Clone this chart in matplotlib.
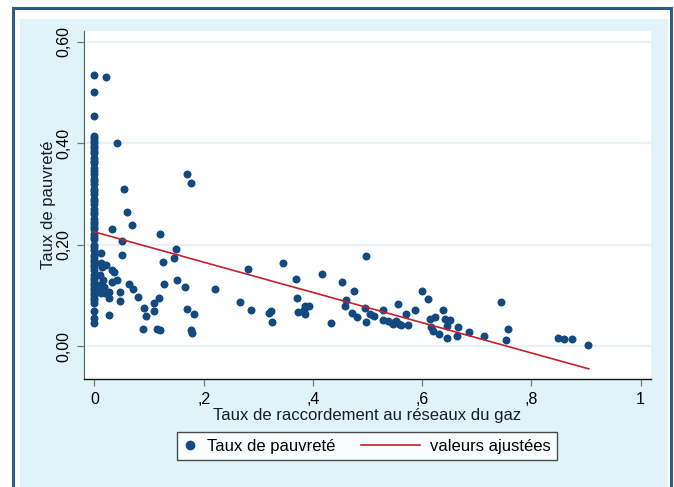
import matplotlib
matplotlib.use("Agg")
import matplotlib.pyplot as plt
from matplotlib.lines import Line2D
from matplotlib.patches import Rectangle
from matplotlib.legend_handler import HandlerBase

plt.rcParams['font.family'] = ['Liberation Sans', 'DejaVu Sans']

# ---- data ----
# communes with no gas connection (x = 0)
x0_y = [0.535, 0.50, 0.454, 0.415, 0.41, 0.405, 0.40, 0.395, 0.39, 0.385, 0.38,
        0.37, 0.365, 0.36, 0.35, 0.345, 0.34, 0.33, 0.325, 0.32, 0.31, 0.305,
        0.30, 0.29, 0.285, 0.28, 0.27, 0.265, 0.26, 0.25, 0.245, 0.24, 0.235,
        0.23, 0.22, 0.215, 0.21, 0.20, 0.195, 0.19, 0.18, 0.175, 0.17, 0.165,
        0.16, 0.155, 0.15, 0.14, 0.135, 0.13, 0.125, 0.12, 0.115, 0.11, 0.105,
        0.10, 0.095, 0.09, 0.085, 0.07, 0.055, 0.045]

# communes with some gas connection
gas_x = [0.021, 0.012, 0.013, 0.010, 0.013, 0.008, 0.012, 0.042, 0.055, 0.059,
         0.068, 0.032, 0.051, 0.051, 0.032, 0.036, 0.041, 0.032, 0.026, 0.047,
         0.027, 0.046, 0.027, 0.064, 0.071, 0.080, 0.091, 0.095, 0.089, 0.109,
         0.110, 0.118, 0.115, 0.120, 0.120, 0.125, 0.128, 0.145, 0.150, 0.151,
         0.166, 0.169, 0.176, 0.170, 0.182, 0.176, 0.179, 0.220, 0.267, 0.281,
         0.287, 0.319, 0.323, 0.326, 0.346, 0.369, 0.371, 0.373, 0.383, 0.386,
         0.392, 0.386, 0.417, 0.433, 0.453, 0.476, 0.460, 0.459, 0.472, 0.481,
         0.497, 0.495, 0.505, 0.512, 0.497, 0.529, 0.528, 0.538, 0.544, 0.553,
         0.556, 0.558, 0.547, 0.561, 0.575, 0.570, 0.587, 0.600, 0.610, 0.614,
         0.624, 0.617, 0.619, 0.630, 0.638, 0.641, 0.648, 0.651, 0.645, 0.645,
         0.665, 0.663, 0.686, 0.714, 0.745, 0.757, 0.753, 0.848, 0.860, 0.874,
         0.904, 0.010, 0.015, 0.020, 0.018, 0.014, 0.022]
gas_y = [0.531, 0.183, 0.164, 0.120, 0.112, 0.115, 0.105, 0.400, 0.310, 0.265,
         0.239, 0.231, 0.208, 0.180, 0.150, 0.145, 0.131, 0.127, 0.107, 0.107,
         0.094, 0.089, 0.062, 0.122, 0.112, 0.096, 0.075, 0.059, 0.034, 0.069,
         0.084, 0.095, 0.033, 0.032, 0.220, 0.166, 0.122, 0.174, 0.192, 0.130,
         0.116, 0.340, 0.322, 0.073, 0.064, 0.032, 0.026, 0.113, 0.087, 0.151,
         0.072, 0.065, 0.070, 0.048, 0.163, 0.133, 0.095, 0.067, 0.071, 0.064,
         0.079, 0.078, 0.142, 0.046, 0.126, 0.108, 0.091, 0.078, 0.066, 0.057,
         0.177, 0.074, 0.064, 0.060, 0.047, 0.071, 0.051, 0.050, 0.046, 0.050,
         0.083, 0.043, 0.044, 0.041, 0.041, 0.064, 0.072, 0.109, 0.093, 0.053,
         0.058, 0.038, 0.030, 0.024, 0.071, 0.053, 0.050, 0.051, 0.039, 0.016,
         0.037, 0.020, 0.028, 0.020, 0.086, 0.033, 0.012, 0.016, 0.014, 0.014,
         0.003, 0.140, 0.130, 0.105, 0.117, 0.155, 0.160]

# fitted values (linear fit endpoints)
fit_x = [0.0, 0.905]
fit_y = [0.225, -0.045]

xticks = [0, 0.2, 0.4, 0.6, 0.8, 1.0]
xtick_labels = ["0", ",2", ",4", ",6", ",8", "1"]
yticks = [0.0, 0.2, 0.4, 0.6]
ytick_labels = ["0,00", "0,20", "0,40", "0,60"]

# ---- figure ----
W, H = 674, 487
fig = plt.figure(figsize=(W / 100, H / 100), dpi=100, facecolor="white")

def fx(px):
    return px / W

def fy(py):
    return 1 - py / H

# outer frame and light blue background
fig.patches.append(Rectangle((fx(20), 0), fx(668) - fx(20), fy(19), transform=fig.transFigure,
                             facecolor="#e0f3f9", edgecolor="none", zorder=-3))
fig.patches.append(Rectangle((fx(13), -0.01), fx(671) - fx(13), fy(8) + 0.01, transform=fig.transFigure,
                             facecolor="none", edgecolor="#2d5a87", linewidth=2.2, zorder=-2))

ax = fig.add_axes([fx(84), fy(379), fx(651) - fx(84), fy(31) - fy(379)])
ax.set_zorder(2)
ax.set_facecolor("white")

ax.set_xlim(-0.019, 1.019)
ax.set_ylim(-0.065, 0.621)

for yt in yticks:
    ax.axhline(yt, color="#e8f1f5", linewidth=1.6, zorder=0)

dot = "#124a80"
line_c = "#c4202e"
ax.scatter([0.0] * len(x0_y), x0_y, s=33, color=dot, linewidths=0, zorder=3)
ax.scatter(gas_x, gas_y, s=33, color=dot, linewidths=0, zorder=3)
ax.plot(fit_x, fit_y, color=line_c, linewidth=1.2, zorder=4)

for s in ["top", "right"]:
    ax.spines[s].set_visible(False)
ax.spines["left"].set_color("#4d6e6e")
ax.spines["left"].set_linewidth(0.9)
ax.spines["bottom"].set_color("#111111")
ax.spines["bottom"].set_linewidth(1.0)

ax.set_xticks(xticks)
ax.set_xticklabels(xtick_labels, fontsize=11.5)
ax.set_yticks(yticks)
ax.set_yticklabels(ytick_labels, fontsize=11.5, rotation=90, va="center")
ax.tick_params(axis="both", direction="out", length=5, width=0.9, color="#777777", pad=4)

ax.set_xlabel("Taux de raccordement au réseaux du gaz", fontsize=12, color="#1a1d2b", labelpad=1)
ax.set_ylabel("Taux de pauvreté", fontsize=12, color="#1a1d2b", labelpad=0)


class LongLineHandler(HandlerBase):
    def create_artists(self, legend, orig_handle, xdescent, ydescent, width, height, fontsize, trans):
        y = height / 2 - ydescent
        ln = Line2D([-xdescent - 33, width - xdescent], [y, y], color=orig_handle.get_color(),
                    linewidth=orig_handle.get_linewidth())
        ln.set_transform(trans)
        return [ln]


h_dot = Line2D([], [], linestyle="none", marker="o", markersize=6, color=dot)
h_line = Line2D([], [], color=line_c, linewidth=1.2)
leg = ax.legend([h_dot, h_line], ["Taux de pauvreté", "valeurs ajustées"], ncol=2,
                loc="upper center", bbox_to_anchor=(fx(367), fy(432)), bbox_transform=fig.transFigure,
                borderaxespad=0, fontsize=12, frameon=True, fancybox=False, edgecolor="#222222",
                handlelength=0.8, handletextpad=0.6, columnspacing=4.3, borderpad=0.4,
                handler_map={h_line: LongLineHandler()})
leg.get_frame().set_linewidth(1.0)
leg.get_frame().set_facecolor("white")

fig.savefig("out.png", dpi=100, facecolor=fig.get_facecolor())
